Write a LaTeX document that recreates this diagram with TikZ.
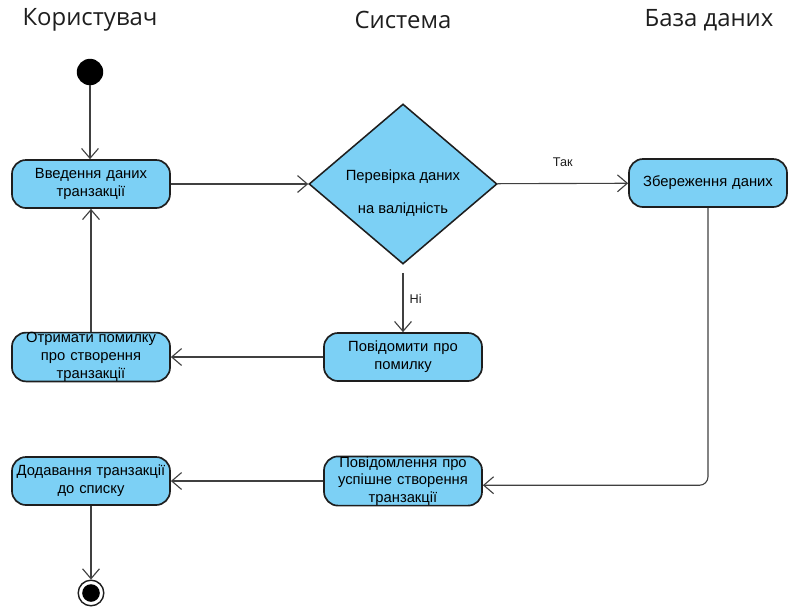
\documentclass[tikz,border=0pt]{standalone}
\usepackage{fontspec}
\setmainfont{Liberation Sans}
\newfontfamily\headfont{Open Sans}
\usepackage{xcolor}
\usetikzlibrary{shapes,arrows.meta}
\definecolor{actfill}{RGB}{124,208,245}
\definecolor{actline}{RGB}{30,30,30}

\begin{document}
\begin{tikzpicture}[x=0.025cm, y=-0.025cm,
	actbox/.style={font=\fontsize{10.5}{12.6}\selectfont, draw=actline, fill=actfill, line width=1.2pt, rounded corners=10pt, minimum width=3.95cm, minimum height=1.2cm, text width=3.9cm, inner sep=0, align=center},
	decision/.style={diamond, draw=actline, fill=actfill, line width=1.1pt, minimum width=4.7cm, minimum height=3.85cm, inner sep=0, font=\fontsize{10.5}{12.6}\selectfont},
	lane/.style={font=\headfont\fontsize{17}{20}\selectfont, text=actline},
	startnode/.style={circle, fill=black, minimum size=0.66cm, inner sep=0},
	endnode/.style={circle, draw=actline, line width=1pt, fill=white, minimum size=0.64cm, inner sep=0, path picture={\fill[black] (path picture bounding box.center) circle (0.22cm);}},
	guard/.style={font=\fontsize{9}{11}\selectfont, text=actline},
	flow/.style={-{Straight Barb[length=7pt,width=12pt]}, line width=0.8pt, draw=actline!85}
]
\useasboundingbox (0,0) rectangle (788,607);

% swimlane titles
\node[lane] (user) at (90,20) {Користувач};
\node[lane] (sys) at (403,20) {Система};
\node[lane] (db) at (709,20) {База даних};

\node[startnode] (start) at (90,72) {};
\node[actbox] (enter) at (91,184) {Введення даних\\транзакції};
\node[decision] (check) at (403,184) {\raisebox{-9pt}[0pt][0pt]{\parbox{4cm}{\centering Перевірка даних\\[10.8pt]на валідність}}};
\node[actbox] (save) at (708,183) {Збереження даних};
\node[actbox] (notify) at (403,357) {Повідомити про\\помилку};
\node[actbox] (geterr) at (91,357) {Отримати помилку\\про створення\\транзакції};
\node[actbox] (success) at (403,481) {Повідомлення про\\успішне створення\\транзакції};
\node[actbox] (append) at (91,481) {Додавання транзакції\\до списку};
\node[endnode] (stop) at (91,593) {};

\draw[flow] (start) -- (start |- enter.north);
\draw[flow] (enter) -- (check);
\draw[flow] (check) -- (save) node[guard, pos=0.5, above=8pt] (yes) {Так};
\draw[flow, shorten <=0.2cm] (check) -- (notify) node[guard, pos=0.5, right=1pt] (no) {Ні};
\draw[flow] (notify) -- (geterr);
\draw[flow] (geterr) -- (enter);
\draw[flow, rounded corners=6pt] (save.south) |- ([yshift=-3pt]success.east);
\draw[flow] (success) -- (append);
\draw[flow] (append) -- (stop);
\end{tikzpicture}
\end{document}
